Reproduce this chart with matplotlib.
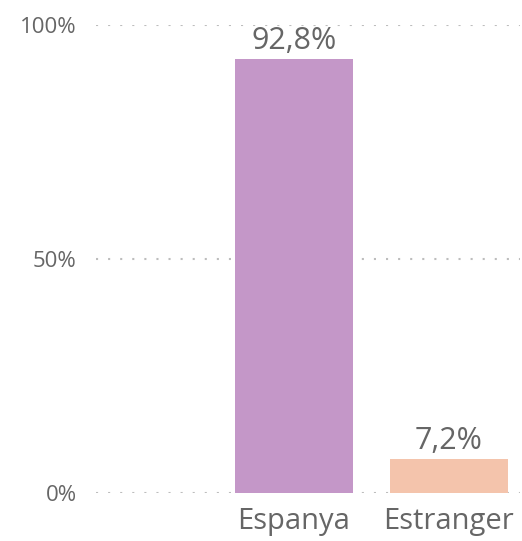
import matplotlib as mpl
import matplotlib.pyplot as plt
import numpy as np

mpl.rcParams.update({
    "font.family": ["Open Sans", "DejaVu Sans"],
    "figure.dpi": 100,
})

categories = ["Espanya", "Estranger"]
values = [92.8, 7.2]
labels = ["92,8%", "7,2%"]
colors = ["#C497C8", "#F4C4AC"]
yticks = [0, 50, 100]
ytick_labels = ["0%", "50%", "100%"]

text_color = "#666666"

fig = plt.figure(figsize=(5.22, 5.41))
ax = fig.add_axes([96 / 522, 1 - 493 / 541, (520 - 96) / 522, 468 / 541])

x = np.arange(len(categories))
ax.bar(x, values, width=0.76, color=colors, zorder=2)
for xi, v, lab in zip(x, values, labels):
    ax.text(xi, v + 0.6, lab, ha="center", va="bottom", fontsize=22, color=text_color)

ax.set_xlim(-1.277, 1.458)
ax.set_ylim(0, 100)
ax.set_yticks(yticks)
ax.set_yticklabels(ytick_labels)
ax.set_xticks(x)
ax.set_xticklabels(categories)
ax.tick_params(axis="y", length=0, pad=14, labelsize=16, labelcolor=text_color)
ax.tick_params(axis="x", length=0, pad=10, labelsize=21, labelcolor=text_color)
# dotted grid, ~12px between dots
ax.yaxis.grid(True, linestyle=(0, (1, 4.8)), color="#BDBDBD", linewidth=1.5, zorder=0)
for s in ax.spines.values():
    s.set_visible(False)

fig.savefig("out.png", dpi=100)
